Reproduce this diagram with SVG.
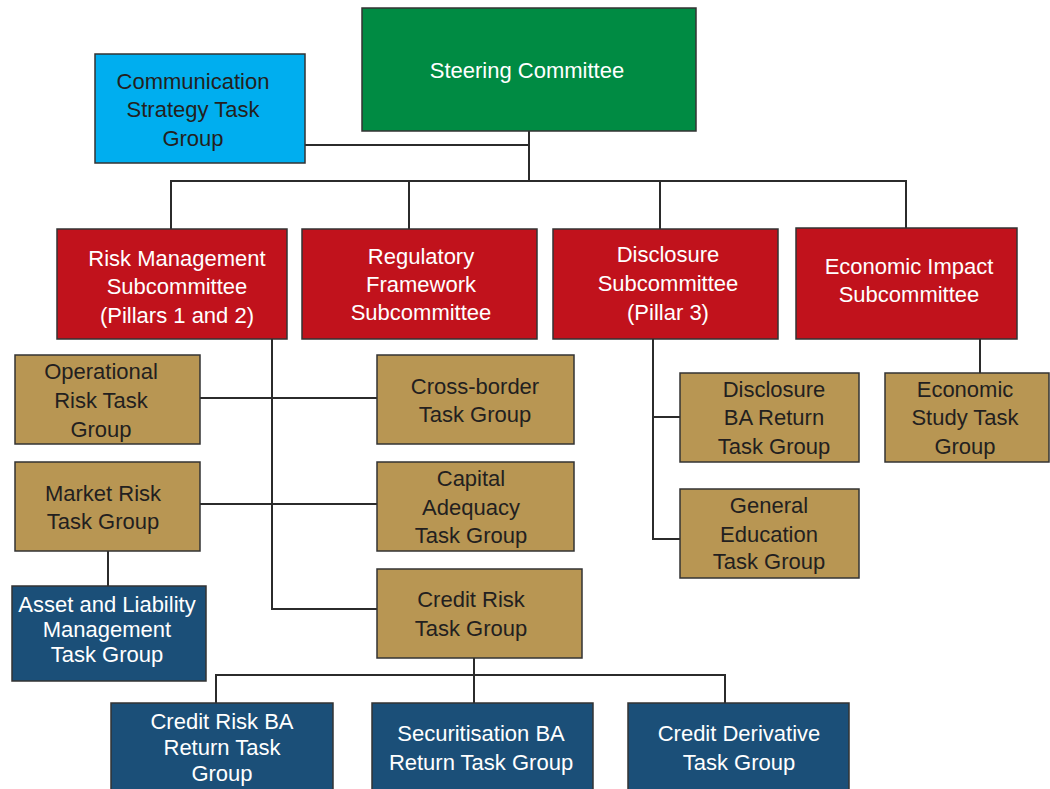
<svg xmlns="http://www.w3.org/2000/svg" width="1050" height="789" viewBox="0 0 1050 789">
<style>
.box{stroke:#333;stroke-width:1.5}
.green{fill:#008b43}.cyan{fill:#00aeef}.red{fill:#c1121c}.tan{fill:#b89653}.navy{fill:#1b4f78}
text{font-family:"Liberation Sans",Arial,sans-serif;font-size:22px;text-anchor:middle}
.w{fill:#fff}.d{fill:#231f20}
.conn{fill:none;stroke:#2b2b2b;stroke-width:2}
</style>
<rect width="1050" height="789" fill="#fff"/>
<g id="connectors" class="conn">
<path d="M529,131 V181"/>
<path d="M305,145 H529"/>
<path d="M171,229 V181 H906 V228"/>
<path d="M409,181 V229"/>
<path d="M660,181 V229"/>
<path d="M272,339 V609 H377"/>
<path d="M200,398 H377"/>
<path d="M200,504 H377"/>
<path d="M108,551 V586"/>
<path d="M474,658 V703"/>
<path d="M216,703 V675 H725 V703"/>
<path d="M653,339 V539 H680"/>
<path d="M653,417 H680"/>
<path d="M980,339 V373"/>
</g>
<g id="steering"><rect class="box green" x="362" y="8" width="334" height="123"/><text class="w" x="527" y="78">Steering Committee</text></g>
<g id="communication"><rect class="box cyan" x="95" y="54" width="210" height="109"/><text class="d" x="193" y="89">Communication</text><text class="d" x="193" y="117">Strategy Task</text><text class="d" x="193" y="146">Group</text></g>
<g id="risk-management"><rect class="box red" x="57" y="229" width="230" height="110"/><text class="w" x="177" y="266">Risk Management</text><text class="w" x="177" y="294">Subcommittee</text><text class="w" x="177" y="323">(Pillars 1 and 2)</text></g>
<g id="regulatory"><rect class="box red" x="302" y="229" width="235" height="110"/><text class="w" x="421" y="264">Regulatory</text><text class="w" x="421" y="292">Framework</text><text class="w" x="421" y="320">Subcommittee</text></g>
<g id="disclosure"><rect class="box red" x="553" y="229" width="225" height="110"/><text class="w" x="668" y="262">Disclosure</text><text class="w" x="668" y="291">Subcommittee</text><text class="w" x="668" y="320">(Pillar 3)</text></g>
<g id="economic-impact"><rect class="box red" x="796" y="228" width="221" height="111"/><text class="w" x="909" y="274">Economic Impact</text><text class="w" x="909" y="302">Subcommittee</text></g>
<g id="operational"><rect class="box tan" x="15" y="355" width="185" height="89"/><text class="d" x="101" y="379">Operational</text><text class="d" x="101" y="408">Risk Task</text><text class="d" x="101" y="437">Group</text></g>
<g id="cross-border"><rect class="box tan" x="377" y="355" width="197" height="89"/><text class="d" x="475" y="394">Cross-border</text><text class="d" x="475" y="422">Task Group</text></g>
<g id="market-risk"><rect class="box tan" x="15" y="462" width="185" height="89"/><text class="d" x="103" y="501">Market Risk</text><text class="d" x="103" y="529">Task Group</text></g>
<g id="capital-adequacy"><rect class="box tan" x="377" y="462" width="197" height="89"/><text class="d" x="471" y="486">Capital</text><text class="d" x="471" y="515">Adequacy</text><text class="d" x="471" y="543">Task Group</text></g>
<g id="credit-risk"><rect class="box tan" x="377" y="569" width="205" height="89"/><text class="d" x="471" y="607">Credit Risk</text><text class="d" x="471" y="636">Task Group</text></g>
<g id="asset-liability"><rect class="box navy" x="12" y="586" width="194" height="95"/><text class="w" x="107" y="612">Asset and Liability</text><text class="w" x="107" y="637">Management</text><text class="w" x="107" y="662">Task Group</text></g>
<g id="disclosure-ba"><rect class="box tan" x="680" y="373" width="179" height="89"/><text class="d" x="774" y="397">Disclosure</text><text class="d" x="774" y="425">BA Return</text><text class="d" x="774" y="454">Task Group</text></g>
<g id="general-education"><rect class="box tan" x="680" y="489" width="179" height="89"/><text class="d" x="769" y="513">General</text><text class="d" x="769" y="542">Education</text><text class="d" x="769" y="569">Task Group</text></g>
<g id="economic-study"><rect class="box tan" x="885" y="373" width="164" height="89"/><text class="d" x="965" y="397">Economic</text><text class="d" x="965" y="425">Study Task</text><text class="d" x="965" y="454">Group</text></g>
<g id="credit-risk-ba"><rect class="box navy" x="111" y="703" width="222" height="95"/><text class="w" x="222" y="729">Credit Risk BA</text><text class="w" x="222" y="755">Return Task</text><text class="w" x="222" y="781">Group</text></g>
<g id="securitisation"><rect class="box navy" x="372" y="703" width="221" height="95"/><text class="w" x="481" y="741">Securitisation BA</text><text class="w" x="481" y="770">Return Task Group</text></g>
<g id="credit-derivative"><rect class="box navy" x="628" y="703" width="221" height="95"/><text class="w" x="739" y="741">Credit Derivative</text><text class="w" x="739" y="770">Task Group</text></g>
</svg>
